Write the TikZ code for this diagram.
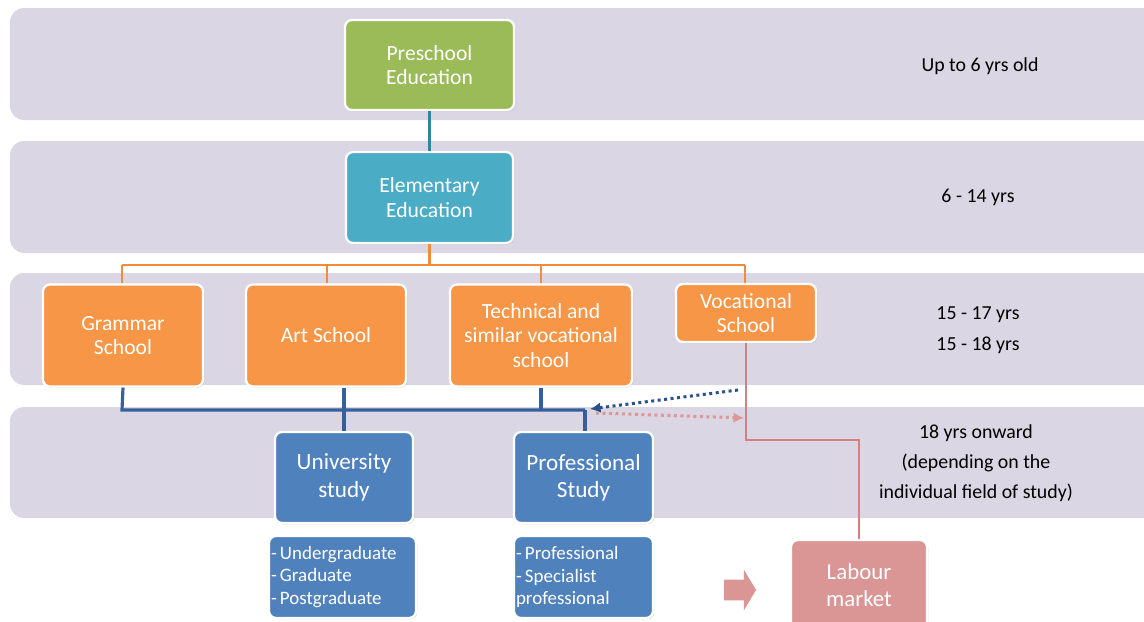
\documentclass[tikz,border=0pt]{standalone}
\usepackage{fontspec}
\setmainfont{Carlito}
\usetikzlibrary{arrows.meta,shapes.arrows,shadows}

\definecolor{bandfill}{RGB}{218,214,228}
\definecolor{preschoolfill}{RGB}{155,187,89}
\definecolor{elemfill}{RGB}{75,172,198}
\definecolor{secfill}{RGB}{247,150,70}
\definecolor{studyfill}{RGB}{79,129,189}
\definecolor{labourfill}{RGB}{217,150,148}
\definecolor{tealline}{RGB}{49,133,156}
\definecolor{orangeline}{RGB}{240,140,60}
\definecolor{blueline}{RGB}{54,96,156}
\definecolor{redline}{RGB}{214,128,128}
\definecolor{dotblue}{RGB}{40,80,140}
\definecolor{dotpink}{RGB}{222,150,150}

\tikzset{
  band/.style={fill=bandfill, rounded corners=8pt},
  box/.style={rectangle, rounded corners=4pt, draw=white, line width=1.3pt,
    text=white, align=center, inner sep=2pt,
    drop shadow={opacity=0.25, shadow xshift=0.8pt, shadow yshift=-0.8pt},
    font=\fontsize{12.3}{13.8}\selectfont},
  listbox/.style={box, align=left, inner sep=1pt, font=\fontsize{10.8}{12.6}\selectfont},
  agetext/.style={align=center, font=\fontsize{11.3}{17}\selectfont},
  link/.style={line width=1.5pt}
}

\begin{document}
\begin{tikzpicture}[x=0.02cm,y=-0.02cm]
  \useasboundingbox (0,0) rectangle (1144,622);
  \clip (0,0) rectangle (1144,622);

  % age bands
  \fill[band] (10,8) rectangle (1170,120);
  \fill[band] (10,141) rectangle (1170,253);
  \fill[band] (10,273) rectangle (1170,385);
  \fill[band] (10,407) rectangle (1170,518);

  % age labels
  \node[agetext] (age1) at (980,66) {Up to 6 yrs old};
  \node[agetext] (age2) at (978,197) {6 - 14 yrs};
  \node[agetext, font=\fontsize{11.3}{17.6}\selectfont] (age3) at (978,330) {15 - 17 yrs\\15 - 18 yrs};
  \node[agetext] (age4) at (976,463) {18 yrs onward\\(depending on the\\individual field of study)};

  % school boxes
  \node[box, fill=preschoolfill, minimum width=3.38cm, minimum height=1.8cm] (pre) at (429.5,65) {Preschool\\Education};
  \node[box, fill=elemfill, minimum width=3.34cm, minimum height=1.82cm] (elem) at (429.5,197.5) {Elementary\\Education};

  \node[box, fill=secfill, minimum width=3.2cm, minimum height=2.04cm] (gram) at (123,335.5) {Grammar\\School};
  \node[box, fill=secfill, minimum width=3.2cm, minimum height=2.04cm] (art) at (326,335.5) {Art School};
  \node[box, fill=secfill, minimum width=3.64cm, minimum height=2.04cm] (tech) at (541,335.5) {Technical and\\similar vocational\\school};
  \node[box, fill=secfill, minimum width=2.8cm, minimum height=1.16cm] (voc) at (746,313) {Vocational\\School};

  \node[box, fill=studyfill, minimum width=2.76cm, minimum height=1.82cm,
    font=\fontsize{13.2}{15.5}\selectfont] (uni) at (344,477.5) {University\\study};
  \node[box, fill=studyfill, minimum width=2.78cm, minimum height=1.82cm,
    font=\fontsize{13.2}{15.5}\selectfont] (prof) at (583.5,477.5) {Professional\\Study};

  \node[listbox, fill=studyfill, minimum width=2.94cm, minimum height=1.64cm,
    text width=2.86cm] (unilist) at (342.5,577) {-\,Undergraduate\\-\,Graduate\\-\,Postgraduate};
  \node[listbox, fill=studyfill, minimum width=2.78cm, minimum height=1.64cm,
    text width=2.7cm] (proflist) at (583.5,577) {-\,Professional\\-\,Specialist\\professional};

  \node[box, fill=labourfill, minimum width=2.72cm, minimum height=1.8cm,
    font=\fontsize{13}{15.5}\selectfont] (labour) at (859,585) {Labour\\market};

  \node[single arrow, fill=labourfill, inner sep=0pt, single arrow head extend=0.2cm,
    single arrow tip angle=118] (toward) at (737,590) {\rule{0pt}{0.4cm}\rule{0.5cm}{0pt}};

  % preschool -> elementary
  \draw[link, tealline] (pre.south) -- (elem.north);

  % elementary -> secondary schools
  \coordinate (obus) at (429.5,265);
  \draw[link, orangeline] (elem.south) -- (obus);
  \draw[link, orangeline] (122,265) -- (745,265);
  \foreach \xx/\tgt in {122/gram, 327/art, 541/tech, 745/voc}
    \draw[link, orangeline] (\xx,265) -- (\xx,0 |- \tgt.north);

  % secondary schools -> higher education
  \draw[link, blueline, line width=1.8pt] (gram.south) -- (122,410) -- (585,410);
  \draw[link, blueline, line width=1.8pt] (344,0 |- art.south) -- (uni.north);
  \draw[link, blueline, line width=1.8pt] (tech.south) -- (541,410);
  \draw[link, blueline, line width=1.8pt] (585,410) -- (585,0 |- prof.north);

  % vocational -> labour market
  \coordinate (vbend) at (746,440);
  \coordinate (lbend) at (859,440);
  \draw[link, redline] (voc.south) -- (vbend) -- (lbend) -- (labour.north);

  % dotted cross-over arrows
  \coordinate (dbstart) at (738,390);
  \coordinate (dbend) at (590,409);
  \coordinate (dpstart) at (596,413);
  \coordinate (dpend) at (744,418);
  \draw[dotblue, line width=1.7pt, dotted, -{Latex[length=6pt,width=6pt]}] (dbstart) -- (dbend);
  \draw[dotpink, line width=1.7pt, dotted, -{Latex[length=6pt,width=6pt]}] (dpstart) -- (dpend);
\end{tikzpicture}
\end{document}
